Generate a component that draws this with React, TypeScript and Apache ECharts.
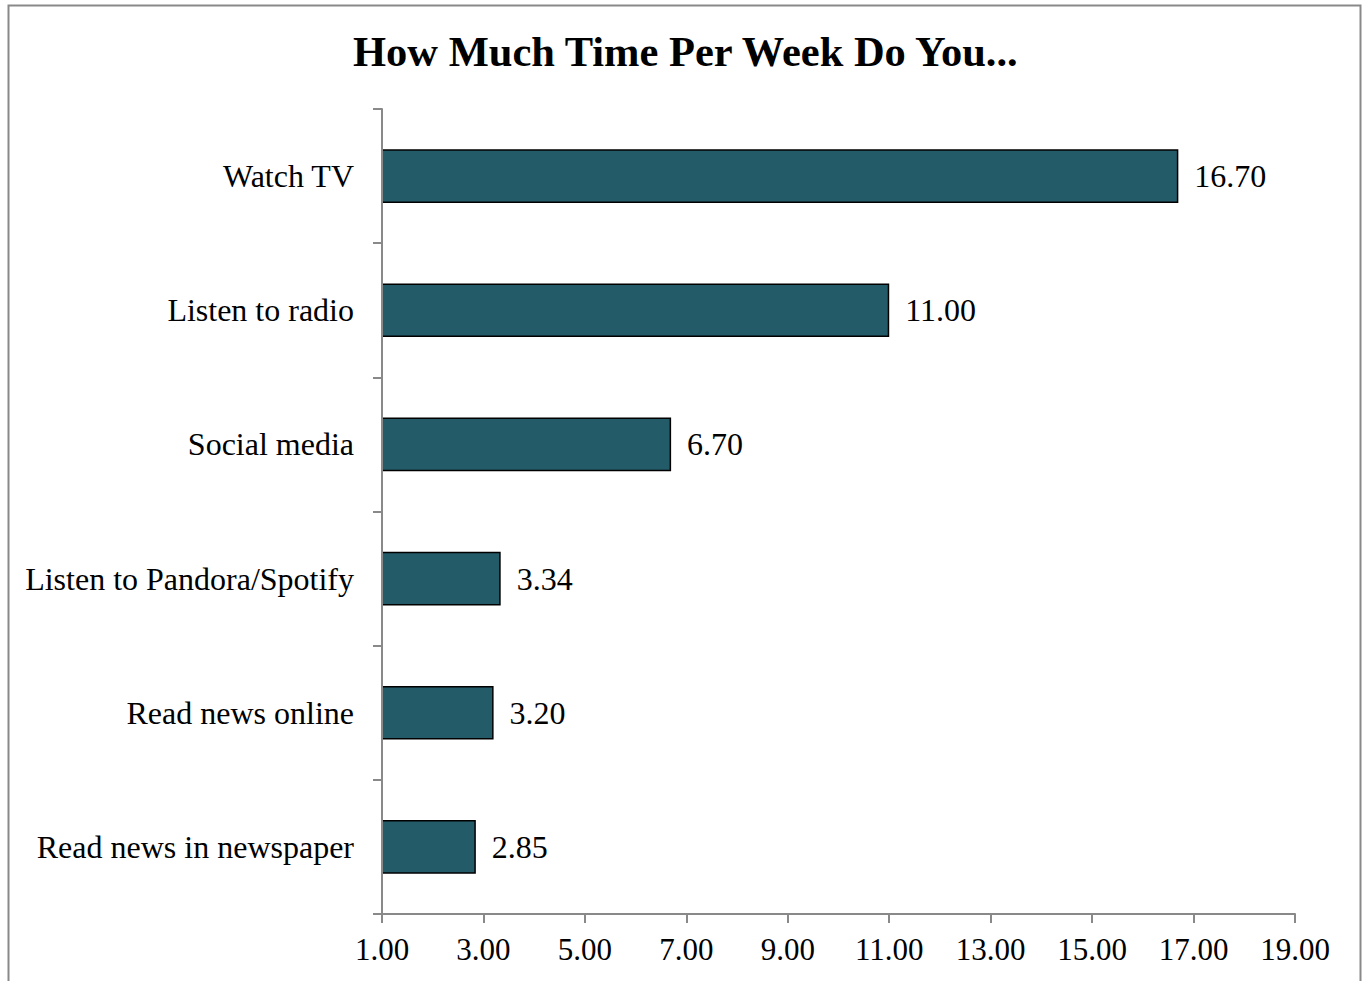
import React, { useEffect, useRef } from "react";
import * as echarts from "echarts";

const categories = [
  "Watch TV",
  "Listen to radio",
  "Social media",
  "Listen to Pandora/Spotify",
  "Read news online",
  "Read news in newspaper",
];
const hours = [16.7, 11.0, 6.7, 3.34, 3.2, 2.85];
const titleText = "How Much Time Per Week Do You...";
const xMin = 1;
const xMax = 19;
const xStep = 2;

export default function App() {
  const ref = useRef<HTMLDivElement>(null);
  useEffect(() => {
    if (!ref.current) return;
    const chart = echarts.init(ref.current, null, { renderer: "svg" });
    const font = "'Liberation Serif', 'Times New Roman', serif";
    chart.setOption({
      animation: false,
      backgroundColor: "#ffffff",
      title: {
        text: titleText,
        left: 348,
        top: 25,
        textStyle: { fontFamily: font, fontSize: 42.5, fontWeight: "bold", color: "#000" },
      },
      graphic: [
        {
          type: "rect",
          shape: { x: 8.5, y: 5.5, width: 1352, height: 1000 },
          style: { fill: "none", stroke: "#898989", lineWidth: 2 },
          silent: true,
        },
      ],
      grid: { left: 382, right: 68, top: 109, bottom: 67, containLabel: false },
      xAxis: {
        type: "value",
        min: xMin,
        max: xMax,
        interval: xStep,
        splitLine: { show: false },
        axisLine: { show: true, lineStyle: { color: "#898989", width: 2 } },
        axisTick: { show: true, length: 9, lineStyle: { color: "#898989", width: 2 } },
        axisLabel: {
          margin: 20,
          fontFamily: font,
          fontSize: 31,
          color: "#000",
          formatter: (v: number) => v.toFixed(2),
        },
      },
      yAxis: {
        type: "category",
        data: categories,
        inverse: true,
        z: 5,
        axisLine: { show: true, lineStyle: { color: "#898989", width: 2 } },
        axisTick: { show: true, length: 9, lineStyle: { color: "#898989", width: 2 } },
        axisLabel: { margin: 28, fontFamily: font, fontSize: 32, color: "#000" },
      },
      series: [
        {
          type: "bar",
          data: hours,
          barWidth: "40%",
          clip: true,
          itemStyle: { color: "#245B69", borderColor: "#000", borderWidth: 1.5 },
          label: {
            show: true,
            position: "right",
            distance: 16,
            fontFamily: font,
            fontSize: 32,
            color: "#000",
            formatter: (p: any) => Number(p.value).toFixed(2),
          },
        },
      ],
    });
    return () => chart.dispose();
  }, []);
  return (
    <div
      ref={ref}
      style={{ position: "absolute", left: 0, top: 0, width: 1363, height: 981 }}
    />
  );
}
